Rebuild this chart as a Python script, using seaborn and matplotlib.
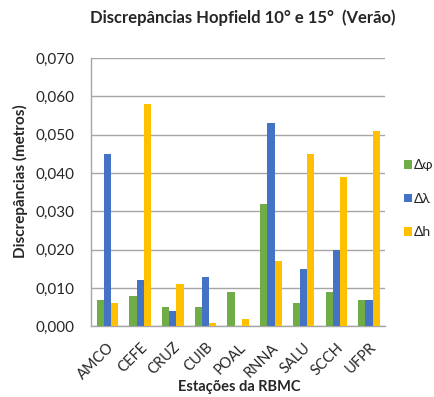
import seaborn as sns
import matplotlib.pyplot as plt
import pandas as pd
from matplotlib.ticker import FuncFormatter

estacoes = ['AMCO', 'CEFE', 'CRUZ', 'CUIB', 'POAL', 'RNNA', 'SALU', 'SCCH', 'UFPR']
d_phi = [0.007, 0.008, 0.005, 0.005, 0.009, 0.032, 0.006, 0.009, 0.007]
d_lambda = [0.045, 0.012, 0.004, 0.013, 0.000, 0.053, 0.015, 0.020, 0.007]
d_h = [0.006, 0.058, 0.011, 0.001, 0.002, 0.017, 0.045, 0.039, 0.051]
series = ['Δφ', 'Δλ', 'Δh']
cores = ['#70AD47', '#4472C4', '#FFC000']

df = pd.DataFrame({'estacao': estacoes * 3,
                   'valor': d_phi + d_lambda + d_h,
                   'serie': [s for s in series for _ in estacoes]})

sns.set_style('white')
plt.rcParams['font.family'] = ['Lato', 'DejaVu Sans']

fig = plt.figure(figsize=(4.34, 3.97), dpi=100)
ax = fig.add_axes([0.21, 0.1776, 0.678, 0.6764])
sns.barplot(data=df, x='estacao', y='valor', hue='serie', palette=cores,
            width=0.66, saturation=1, ax=ax, edgecolor='none', zorder=3)

ax.set_ylim(0, 0.070)
ax.set_yticks([i * 0.01 for i in range(8)])
ax.yaxis.set_major_formatter(FuncFormatter(lambda v, p: f'{v:.3f}'.replace('.', ',')))
ax.grid(axis='y', color='#A6A6A6', linewidth=1, zorder=0)
ax.set_xlim(-0.5, len(estacoes) - 0.5)
ax.set_xticks(range(len(estacoes)))
ax.set_xticklabels(estacoes, rotation=45, ha='right', rotation_mode='anchor')
ax.set_xticks([i - 0.5 for i in range(len(estacoes) + 1)], minor=True)
ax.tick_params(axis='x', which='major', length=0, labelsize=10.5, pad=10)
ax.tick_params(axis='x', which='minor', length=5, color='#A6A6A6', width=1, direction='out')
ax.tick_params(axis='y', length=4, color='#A6A6A6', width=1, direction='out',
               labelsize=11, pad=8)
for s in ['top', 'right']:
    ax.spines[s].set_visible(False)
for s in ['left', 'bottom']:
    ax.spines[s].set_color('#A6A6A6')
    ax.spines[s].set_linewidth(1)

ax.set_xlabel('Estações da RBMC', fontsize=10.5, fontweight='bold')
ax.xaxis.set_label_coords(0.505, -0.2)
ax.set_ylabel('Discrepâncias (metros)', fontsize=11, fontweight='bold')
ax.yaxis.set_label_coords(-0.215, 0.54)
fig.suptitle('Discrepâncias Hopfield 10° e 15°  (Verão)', fontsize=12,
             fontweight='bold', x=0.56, y=0.975)

ax.legend(loc='center left', bbox_to_anchor=(1.063, 0.475), frameon=False,
          fontsize=10, handlelength=0.55, handleheight=0.55, labelspacing=1.55,
          handletextpad=0.15, borderpad=0, borderaxespad=0)

fig.savefig('out.png', dpi=100)
